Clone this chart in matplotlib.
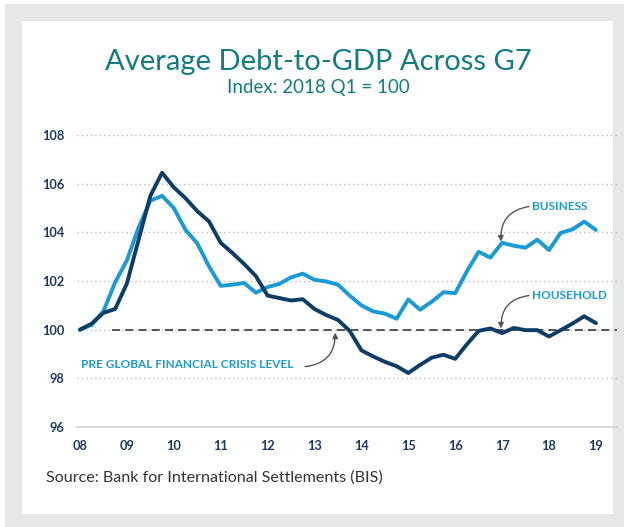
import numpy as np
import matplotlib
matplotlib.use('Agg')
import matplotlib.pyplot as plt
from matplotlib.patches import Rectangle

# quarterly index values, 2008 Q1 .. 2019 Q1
quarters = 2008 + 0.25 * np.arange(45)

household = [100.0, 100.25, 100.69, 100.85, 101.9, 103.7, 105.5, 106.45, 105.85,
             105.4, 104.87, 104.45, 103.57, 103.15, 102.7, 102.2, 101.4, 101.3,
             101.2, 101.25, 100.85, 100.6, 100.4, 99.95, 99.15, 98.9, 98.68, 98.5,
             98.22, 98.55, 98.85, 98.97, 98.8, 99.4, 99.95, 100.05, 99.86, 100.07,
             99.98, 99.98, 99.72, 99.98, 100.25, 100.55, 100.27]

business = [100.0, 100.2, 100.76, 101.95, 102.85, 104.2, 105.3, 105.5, 105.0,
            104.1, 103.55, 102.6, 101.8, 101.85, 101.92, 101.52, 101.75, 101.88,
            102.15, 102.3, 102.05, 101.98, 101.85, 101.4, 101.0, 100.75, 100.66,
            100.45, 101.24, 100.82, 101.15, 101.54, 101.5, 102.4, 103.2, 102.96,
            103.57, 103.45, 103.37, 103.7, 103.27, 103.98, 104.12, 104.44, 104.1]

year_ticks = list(range(2008, 2020))
year_labels = ['08', '09', '10', '11', '12', '13', '14', '15', '16', '17', '18', '19']
y_ticks = [96, 98, 100, 102, 104, 106, 108]

pre_crisis_level = 100

teal = '#137c82'
navy = '#1c3a5e'
dark_line = '#0b3d66'
light_line = '#1a9bd7'
arrow_grey = '#555555'

plt.rcParams['font.family'] = ['Lato', 'DejaVu Sans']
plt.rcParams['xtick.major.pad'] = 9
plt.rcParams['ytick.major.pad'] = 9

W, H = 624, 527
fig = plt.figure(figsize=(W / 100, H / 100), dpi=100)
fig.patch.set_facecolor('#e6e7e8')

# white outer strips and white card (behind everything)
for x0, y0, w, h in [(0, 1 - 4 / H, 1, 4 / H), (0, 0, 5 / W, 1),
                     (22 / W, 13 / H, 591 / W, 493 / H)]:
    fig.patches.append(Rectangle((x0, y0), w, h, transform=fig.transFigure,
                                 facecolor='white', edgecolor='none', zorder=-10))

fig.text(318 / W, 1 - 62 / H, 'Average Debt-to-GDP Across G7', ha='center', va='center',
         fontsize=21, color=teal)
fig.text(318 / W, 1 - 88 / H, 'Index: 2018 Q1 = 100', ha='center', va='center',
         fontsize=13.5, color=teal)
fig.text(46 / W, 1 - 478 / H, 'Source: Bank for International Settlements (BIS)',
         ha='left', va='center', fontsize=11.6, color='#333333')

ax = fig.add_axes([77 / W, 1 - 427 / H, 540 / W, 292 / H])
ax.set_facecolor('none')
ax.set_xlim(2008 - 3 / 46.9, 2008 + 537 / 46.9)
ax.set_ylim(96, 108)

for v in y_ticks[1:]:
    ax.axhline(v, color='#bdbdbd', lw=1, linestyle=(0, (1, 2.2)), zorder=1)
ax.axhline(96, color='#d6d6d6', lw=1.3, zorder=1, clip_on=False)

ax.plot([2008.68, 2019.45], [pre_crisis_level, pre_crisis_level], color=arrow_grey,
        lw=1.4, linestyle=(0, (4.2, 2.6)), zorder=2)

ax.plot(quarters, business, color=light_line, lw=2.8, solid_joinstyle='round',
        solid_capstyle='round', zorder=3)
ax.plot(quarters, household, color=dark_line, lw=2.8, solid_joinstyle='round',
        solid_capstyle='round', zorder=4)

for s in ax.spines.values():
    s.set_visible(False)
ax.set_xticks(year_ticks)
ax.set_xticklabels(year_labels)
ax.set_yticks(y_ticks)
ax.tick_params(length=0, labelsize=9.2, labelcolor=navy)
for lab in ax.get_xticklabels() + ax.get_yticklabels():
    lab.set_fontweight('bold')

# annotations
arrow = dict(arrowstyle='-|>', color=arrow_grey, lw=1, mutation_scale=8,
             shrinkA=0, shrinkB=0)
ax.text(2017.64, 105.06, 'BUSINESS', ha='left', va='center', fontsize=8.5,
        fontweight='bold', color=light_line)
ax.annotate('', xy=(2016.98, 103.62), xytext=(2017.57, 105.06),
            arrowprops=dict(connectionstyle='arc3,rad=0.45', **arrow))
ax.text(2017.64, 101.40, 'HOUSEHOLD', ha='left', va='center', fontsize=8.5,
        fontweight='bold', color=light_line)
ax.annotate('', xy=(2016.98, 100.05), xytext=(2017.57, 101.40),
            arrowprops=dict(connectionstyle='arc3,rad=0.45', **arrow))
ax.text(2008.02, 98.56, 'PRE GLOBAL FINANCIAL CRISIS LEVEL', ha='left', va='center',
        fontsize=8.5, fontweight='bold', color=light_line)
ax.annotate('', xy=(2013.44, 99.88), xytext=(2012.80, 98.48),
            arrowprops=dict(connectionstyle='arc3,rad=0.45', **arrow))

fig.savefig('out.png', dpi=100, facecolor=fig.get_facecolor())
